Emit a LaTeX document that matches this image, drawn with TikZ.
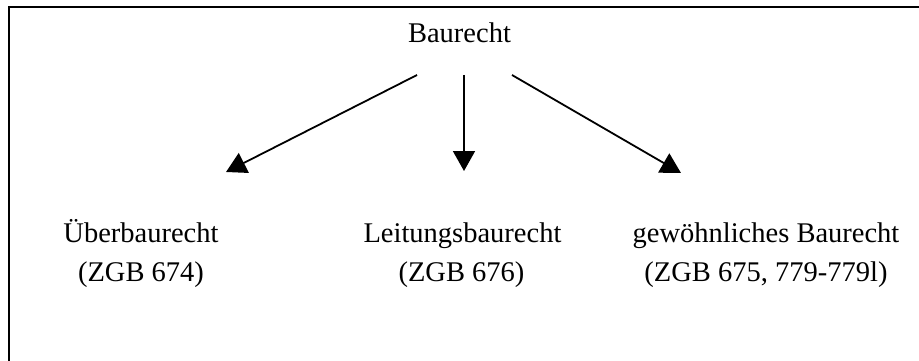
\documentclass[tikz,border=0pt]{standalone}
\usepackage{fontspec}
\setmainfont{Liberation Serif}
\usetikzlibrary{arrows.meta}
\begin{document}
\begin{tikzpicture}[x=1pt,y=-1pt,
  lbl/.style={anchor=base,inner sep=0pt,font=\fontsize{28.5}{34}\selectfont},
  arr/.style={line width=1.8pt,-{Triangle[length=20pt,width=22pt]}},
  frame/.style={line width=2.4pt}]
\useasboundingbox (0,0) rectangle (919,361);
\draw[frame] (9,370) -- (9,7) -- (930,7);
\node[lbl] (root) at (459.5,43) {Baurecht};
\node[lbl] (a1) at (141,242) {Überbaurecht};
\node[lbl] (a2) at (141,281) {(ZGB 674)};
\node[lbl] (b1) at (462.5,242) {Leitungsbaurecht};
\node[lbl] (b2) at (461.5,281) {(ZGB 676)};
\node[lbl] (c1) at (766,242) {gewöhnliches Baurecht};
\node[lbl] (c2) at (766,281) {(ZGB 675, 779-779l)};
\coordinate (s1) at (417,75);
\coordinate (s2) at (464,75);
\coordinate (s3) at (512,75);
\coordinate (e1) at (226,172);
\coordinate (e2) at (464,171);
\coordinate (e3) at (681,173);
\draw[arr] (s1) -- (e1);
\draw[arr] (s2) -- (e2);
\draw[arr] (s3) -- (e3);
\end{tikzpicture}
\end{document}
